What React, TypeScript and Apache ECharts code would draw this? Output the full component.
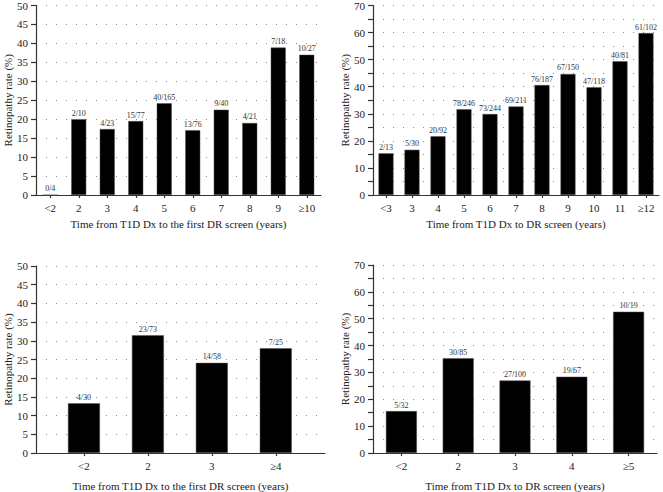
import React, { useEffect, useRef } from "react";
import * as echarts from "echarts";

const cats1 = ["<2", "2", "3", "4", "5", "6", "7", "8", "9", "≥10"];
const vals1 = [0, 20, 17.4, 19.5, 24.2, 17.1, 22.5, 19.0, 38.9, 37.0];
const labs1 = ["0/4", "2/10", "4/23", "15/77", "40/165", "13/76", "9/40", "4/21", "7/18", "10/27"];

const cats2 = ["<3", "3", "4", "5", "6", "7", "8", "9", "10", "11", "≥12"];
const vals2 = [15.4, 16.7, 21.7, 31.7, 29.9, 32.7, 40.6, 44.7, 39.8, 49.4, 59.8];
const labs2 = ["2/13", "5/30", "20/92", "78/246", "73/244", "69/211", "76/187", "67/150", "47/118", "40/81", "61/102"];

const cats3 = ["<2", "2", "3", "≥4"];
const vals3 = [13.3, 31.5, 24.1, 28.0];
const labs3 = ["4/30", "23/73", "14/58", "7/25"];

const cats4 = ["<2", "2", "3", "4", "≥5"];
const vals4 = [15.6, 35.3, 27.0, 28.4, 52.6];
const labs4 = ["5/32", "30/85", "27/100", "19/67", "10/19"];

const xName1 = "Time from T1D Dx to the first DR screen (years)";
const xName2 = "Time from T1D Dx to DR screen (years)";
const yName = "Retinopathy rate (%)";

const FONT = "'Liberation Serif', 'DejaVu Serif', serif";
const TXT = "#222";

export default function App() {
  const ref = useRef<HTMLDivElement>(null);
  useEffect(() => {
    document.body.style.margin = "0";
    const chart = echarts.init(ref.current!, null, { renderer: "svg" });

    const axisLineStyle = { color: "#333", width: 1.2 };
    const mkY = (gi: number, max: number, labelEvery: number) => ({
      type: "value",
      gridIndex: gi,
      min: 0,
      max,
      interval: 5,
      name: yName,
      nameLocation: "middle",
      nameGap: 23,
      nameTextStyle: { fontFamily: FONT, fontSize: 11, color: TXT },
      axisLine: { show: true, onZero: false, lineStyle: axisLineStyle },
      axisTick: { show: true, length: 5, lineStyle: axisLineStyle },
      axisLabel: {
        fontFamily: FONT,
        fontSize: 11,
        color: TXT,
        margin: 8,
        formatter: (v: number) => (v % labelEvery === 0 ? String(v) : ""),
      },
      splitLine: { show: true, lineStyle: { color: "#8a8a8a", type: [1, 9], width: 1 } },
    });
    const mkXCat = (gi: number, cats: string[], name: string) => ({
      type: "category",
      gridIndex: gi,
      data: cats,
      name,
      nameLocation: "middle",
      nameGap: 23,
      nameTextStyle: { fontFamily: FONT, fontSize: 11, color: TXT },
      axisLine: { show: true, onZero: false, lineStyle: axisLineStyle },
      axisTick: { show: true, alignWithLabel: true, length: 3, lineStyle: axisLineStyle },
      axisLabel: { fontFamily: FONT, fontSize: 11, color: TXT, margin: 7, interval: 0 },
      splitLine: { show: false },
    });
    const barLabel = (labs: string[]) => ({
      show: true,
      position: "top",
      distance: 2,
      fontFamily: FONT,
      fontSize: 8,
      color: "#333",
      textBorderWidth: 0,
      formatter: (p: any) => labs[p.dataIndex],
    });
    const barItem = { color: "#000", borderColor: "#555", borderWidth: 0.5 };

    chart.setOption({
      animation: false,
      backgroundColor: "#fff",
      grid: [
        { left: 36, top: 5, width: 285, height: 190 },
        { left: 373, top: 4, width: 286, height: 191 },
        { left: 36, top: 266, width: 289, height: 191 },
        { left: 373, top: 265, width: 284, height: 192 },
      ],
      xAxis: [
        mkXCat(0, cats1, xName1),
        mkXCat(1, cats2, xName2),
        {
          type: "value",
          gridIndex: 2,
          min: -0.75,
          max: 3.77,
          name: xName1,
          nameLocation: "middle",
          nameGap: 27,
          nameTextStyle: { fontFamily: FONT, fontSize: 11, color: TXT },
          axisLine: { show: true, onZero: false, lineStyle: axisLineStyle },
          axisTick: { show: true, length: 3, lineStyle: axisLineStyle, customValues: cats3.map((_, i) => i) },
          axisLabel: {
            fontFamily: FONT,
            fontSize: 11,
            color: TXT,
            margin: 7,
            customValues: cats3.map((_, i) => i),
            formatter: (v: number) => cats3[Math.round(v)] ?? "",
          },
          splitLine: { show: false },
        },
        { ...mkXCat(3, cats4, xName2), nameGap: 27 },
      ],
      yAxis: [mkY(0, 50, 5), mkY(1, 70, 10), mkY(2, 50, 5), mkY(3, 70, 10)],
      series: [
        { type: "bar", xAxisIndex: 0, yAxisIndex: 0, data: vals1, barWidth: 15, itemStyle: barItem, label: barLabel(labs1) },
        { type: "bar", xAxisIndex: 1, yAxisIndex: 1, data: vals2, barWidth: 15, itemStyle: barItem, label: barLabel(labs2) },
        {
          type: "bar",
          xAxisIndex: 2,
          yAxisIndex: 2,
          data: vals3.map((v, i) => [i, v]),
          barWidth: 32,
          itemStyle: barItem,
          label: barLabel(labs3),
        },
        { type: "bar", xAxisIndex: 3, yAxisIndex: 3, data: vals4, barWidth: 31, itemStyle: barItem, label: barLabel(labs4) },
      ],
    });
    return () => chart.dispose();
  }, []);
  return <div ref={ref} style={{ width: 663, height: 492 }} />;
}
